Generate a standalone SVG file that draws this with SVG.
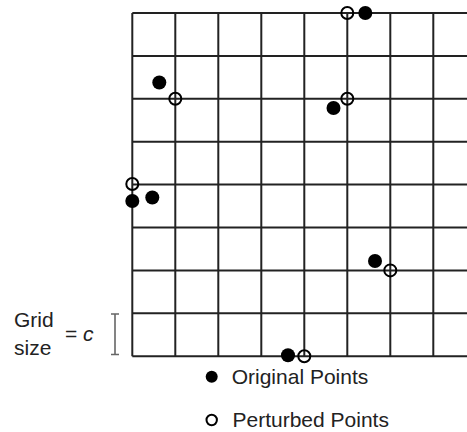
<svg xmlns="http://www.w3.org/2000/svg" width="467" height="432" viewBox="0 0 467 432">
<style>
.grid line{stroke:#222;stroke-width:2}
.orig{fill:#000}
.pert{fill:none;stroke:#000;stroke-width:2}
.lbl{font-family:"Liberation Sans",Arial,sans-serif;font-size:21px;fill:#222}
.bar{stroke:#666;stroke-width:1.6;fill:none}
</style>
<rect width="467" height="432" fill="#fff"/>
<g id="grid" class="grid">
<line x1="132.3" y1="13" x2="467" y2="13"/>
<line x1="132.3" y1="55.9" x2="467" y2="55.9"/>
<line x1="132.3" y1="98.8" x2="467" y2="98.8"/>
<line x1="132.3" y1="141.7" x2="467" y2="141.7"/>
<line x1="132.3" y1="184.6" x2="467" y2="184.6"/>
<line x1="132.3" y1="227.5" x2="467" y2="227.5"/>
<line x1="132.3" y1="270.4" x2="467" y2="270.4"/>
<line x1="132.3" y1="313.3" x2="467" y2="313.3"/>
<line x1="132.3" y1="356.2" x2="467" y2="356.2"/>
<line x1="132.3" y1="13" x2="132.3" y2="356.2"/>
<line x1="175.3" y1="13" x2="175.3" y2="356.2"/>
<line x1="218.3" y1="13" x2="218.3" y2="356.2"/>
<line x1="261.3" y1="13" x2="261.3" y2="356.2"/>
<line x1="304.3" y1="13" x2="304.3" y2="356.2"/>
<line x1="347.3" y1="13" x2="347.3" y2="356.2"/>
<line x1="390.3" y1="13" x2="390.3" y2="356.2"/>
<line x1="433.3" y1="13" x2="433.3" y2="356.2"/>
</g>
<g id="points">
<circle class="pert" cx="347.3" cy="13" r="6"/>
<circle class="orig" cx="365.3" cy="13" r="7"/>
<circle class="orig" cx="159.3" cy="82.5" r="7"/>
<circle class="pert" cx="175.3" cy="98.8" r="6"/>
<circle class="orig" cx="333.5" cy="108" r="7"/>
<circle class="pert" cx="347.3" cy="98.8" r="6"/>
<circle class="pert" cx="132.3" cy="184" r="6"/>
<circle class="orig" cx="132.3" cy="201" r="7"/>
<circle class="orig" cx="152.3" cy="197.5" r="7"/>
<circle class="orig" cx="375" cy="261" r="7"/>
<circle class="pert" cx="390.3" cy="270.4" r="6"/>
<circle class="orig" cx="288" cy="355.3" r="7"/>
<circle class="pert" cx="304.3" cy="356.2" r="6"/>
</g>
<g id="scale">
<path class="bar" d="M111 314H119M115 314V354.5M111 354.5H119"/>
<text class="lbl" x="14" y="327.3">Grid</text>
<text class="lbl" x="14" y="355">size</text>
<text class="lbl" x="65" y="340.7">= <tspan font-style="italic">c</tspan></text>
</g>
<g id="legend">
<circle class="orig" cx="211.7" cy="376.7" r="6"/>
<text class="lbl" x="231.7" y="384.3">Original Points</text>
<circle class="pert" cx="211.7" cy="420" r="5.2"/>
<text class="lbl" x="232.5" y="426.5">Perturbed Points</text>
</g>
</svg>
